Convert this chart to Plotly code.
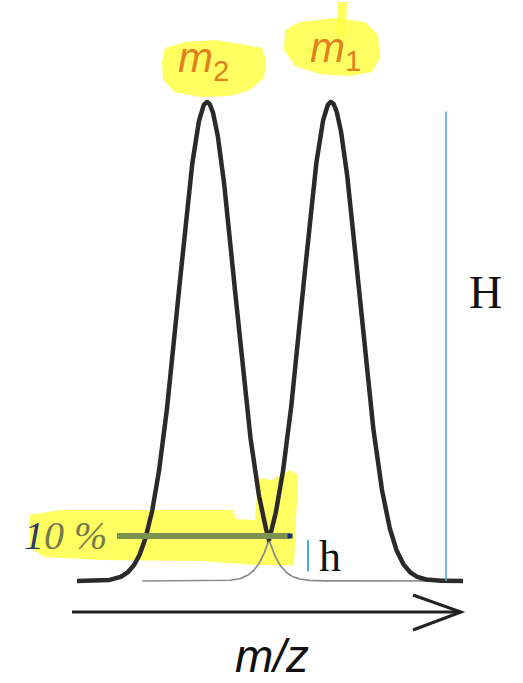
import numpy as np
import plotly.graph_objects as go

# ---- data ----
peak_labels = ["<i>m</i><sub>2</sub>", "<i>m</i><sub>1</sub>"]
peak_centers = [207, 331]      # m/z position (arbitrary units)
peak_heights = [1.0, 1.0]      # relative intensity (H = 1)
peak_sigmas = [28.0, 28.0]
mz_start, mz_end = 77, 463
valley_level = 0.094           # "10 %" valley
h_span = [0.02, 0.086]
H_span = [0.0, 0.98]

# pixel helpers for decorations (x axis in px units, y converted)
BASE_PX, TOP_PX = 581.0, 102.0
def Y(p):
    return (BASE_PX - p) / (BASE_PX - TOP_PX)

def gauss(x, c, a, s):
    return a * np.exp(-((x - c) ** 2) / (2 * s ** 2))

x = np.linspace(mz_start, mz_end, 800)
g = [gauss(x, c, a, s) for c, a, s in zip(peak_centers, peak_heights, peak_sigmas)]
env = np.maximum(g[0], g[1])

fig = go.Figure()
# thin individual peaks
x1 = x[x <= 460]
fig.add_trace(go.Scatter(x=x1, y=gauss(x1, peak_centers[0], peak_heights[0], peak_sigmas[0]),
                         mode="lines", line=dict(color="#8a8a8a", width=1.7), hoverinfo="skip"))
x2 = x[x >= 142]
fig.add_trace(go.Scatter(x=x2, y=gauss(x2, peak_centers[1], peak_heights[1], peak_sigmas[1]),
                         mode="lines", line=dict(color="#8a8a8a", width=1.7), hoverinfo="skip"))
# thick envelope
fig.add_trace(go.Scatter(x=x, y=env, mode="lines",
                         line=dict(color="#2a2a2a", width=4.5), hoverinfo="skip"))
# 10 % line
fig.add_trace(go.Scatter(x=[117, 290], y=[valley_level, valley_level], mode="lines",
                         line=dict(color="#7c9150", width=6), hoverinfo="skip"))
fig.add_trace(go.Scatter(x=[290], y=[valley_level], mode="markers",
                         marker=dict(color="#1a2a7a", size=5, symbol="square"), hoverinfo="skip"))
# h and H lines
fig.add_trace(go.Scatter(x=[308, 308], y=h_span, mode="lines",
                         line=dict(color="#4baed8", width=2), hoverinfo="skip"))
fig.add_trace(go.Scatter(x=[446, 446], y=H_span, mode="lines",
                         line=dict(color="#4baed8", width=1.6), hoverinfo="skip"))

def path(pts):
    s = "M %f,%f " % (pts[0][0], Y(pts[0][1]))
    for px_, py_ in pts[1:]:
        s += "L %f,%f " % (px_, Y(py_))
    return s + "Z"

yellow = "rgba(255,255,70,0.85)"
blobs = [
    [(165, 48), (185, 42), (215, 40), (240, 44), (262, 48), (266, 60), (264, 78), (250, 90),
     (230, 96), (200, 97), (175, 92), (163, 80), (162, 62)],
    [(285, 30), (300, 22), (335, 18), (365, 22), (378, 35), (380, 58), (372, 72), (350, 76),
     (320, 74), (295, 66), (284, 50)],
    [(336, 35), (338, 2), (347, 2), (346, 35)],
    [(30, 515), (60, 510), (233, 510), (236, 519), (255, 520), (258, 478), (272, 480),
     (290, 470), (298, 475), (296, 520), (294, 565), (255, 565), (200, 561), (100, 560),
     (45, 557), (30, 548)],
]
shapes = []
for b in blobs:
    shapes.append(dict(type="path", path=path(b), xref="x", yref="y", layer="below",
                       fillcolor=yellow, line=dict(width=0)))
# m/z axis arrow (open arrowhead)
ay = Y(612)
shapes.append(dict(type="line", xref="x", yref="y", x0=72, x1=461, y0=ay, y1=ay,
                   line=dict(color="#222", width=3)))
shapes.append(dict(type="path", xref="x", yref="y",
                   path="M 413,%f L 461,%f L 413,%f" % (Y(595), ay, Y(630)),
                   line=dict(color="#222", width=3)))
fig.update_layout(shapes=shapes)

ann = []
for lab, xc, ypx in zip(peak_labels, [203, 335], [60, 50]):
    ann.append(dict(x=xc, y=Y(ypx), text=lab, showarrow=False,
                    font=dict(family="Liberation Sans, Arial", size=42, color="#e2801e")))
ann.append(dict(x=65, y=Y(535), text="<i><span style='color:#2b3a6b'>1</span>0 %</i>", showarrow=False,
                font=dict(family="Liberation Serif, Times New Roman", size=40, color="#777b4c")))
ann.append(dict(x=330, y=Y(556), text="h", showarrow=False,
                font=dict(family="Liberation Serif, Times New Roman", size=44, color="#111")))
ann.append(dict(x=485, y=Y(292), text="H", showarrow=False,
                font=dict(family="Liberation Serif, Times New Roman", size=46, color="#111")))
ann.append(dict(x=272, y=Y(656), text="<i>m/z</i>", showarrow=False, borderpad=0,
                font=dict(family="Liberation Sans, Arial", size=46, color="#111")))
fig.update_layout(annotations=ann)

fig.update_layout(
    width=523, height=683, margin=dict(l=0, r=0, t=0, b=0),
    paper_bgcolor="white", plot_bgcolor="white", showlegend=False,
    xaxis=dict(range=[0, 523], visible=False, fixedrange=True),
    yaxis=dict(range=[Y(683), Y(0)], visible=False, fixedrange=True),
)
fig.write_html("out.html", config={"displayModeBar": False},
               post_script="document.body.style.margin='0';document.body.style.overflow='hidden';")
